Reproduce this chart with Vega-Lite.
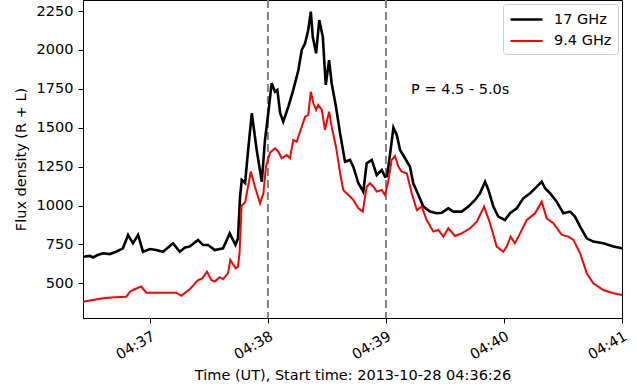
{
  "$schema": "https://vega.github.io/schema/vega-lite/v6.json",
  "width": 539,
  "height": 318,
  "autosize": {"type": "none"},
  "padding": {"left": 83, "top": 0, "right": 15, "bottom": 73},
  "background": "white",
  "config": {
    "font": "DejaVu Sans",
    "view": {"stroke": "black", "strokeWidth": 1},
    "axis": {
      "grid": false,
      "labelColor": "black",
      "titleColor": "black",
      "tickColor": "black",
      "domainColor": "black",
      "labelFontSize": 14.5,
      "titleFontSize": 14.5,
      "titleFontWeight": "normal",
      "tickSize": 5,
      "labelPadding": 4
    },
    "legend": {
      "labelFontSize": 14.5,
      "labelColor": "black"
    }
  },
  "datasets": {
    "flux": [
      {"t": "2013-10-28T04:36:26.0Z", "band": "17 GHz", "flux": 671},
      {"t": "2013-10-28T04:36:29.6Z", "band": "17 GHz", "flux": 676},
      {"t": "2013-10-28T04:36:31.1Z", "band": "17 GHz", "flux": 666},
      {"t": "2013-10-28T04:36:33.1Z", "band": "17 GHz", "flux": 680},
      {"t": "2013-10-28T04:36:36.2Z", "band": "17 GHz", "flux": 693},
      {"t": "2013-10-28T04:36:39.7Z", "band": "17 GHz", "flux": 688},
      {"t": "2013-10-28T04:36:42.8Z", "band": "17 GHz", "flux": 703},
      {"t": "2013-10-28T04:36:46.3Z", "band": "17 GHz", "flux": 725},
      {"t": "2013-10-28T04:36:48.9Z", "band": "17 GHz", "flux": 811},
      {"t": "2013-10-28T04:36:51.4Z", "band": "17 GHz", "flux": 757},
      {"t": "2013-10-28T04:36:54.0Z", "band": "17 GHz", "flux": 811},
      {"t": "2013-10-28T04:36:56.5Z", "band": "17 GHz", "flux": 703},
      {"t": "2013-10-28T04:37:00.1Z", "band": "17 GHz", "flux": 720},
      {"t": "2013-10-28T04:37:03.1Z", "band": "17 GHz", "flux": 714},
      {"t": "2013-10-28T04:37:06.7Z", "band": "17 GHz", "flux": 703},
      {"t": "2013-10-28T04:37:09.2Z", "band": "17 GHz", "flux": 730},
      {"t": "2013-10-28T04:37:11.8Z", "band": "17 GHz", "flux": 757},
      {"t": "2013-10-28T04:37:15.2Z", "band": "17 GHz", "flux": 703},
      {"t": "2013-10-28T04:37:17.9Z", "band": "17 GHz", "flux": 730},
      {"t": "2013-10-28T04:37:20.2Z", "band": "17 GHz", "flux": 736},
      {"t": "2013-10-28T04:37:24.5Z", "band": "17 GHz", "flux": 779},
      {"t": "2013-10-28T04:37:27.0Z", "band": "17 GHz", "flux": 746},
      {"t": "2013-10-28T04:37:29.6Z", "band": "17 GHz", "flux": 746},
      {"t": "2013-10-28T04:37:33.0Z", "band": "17 GHz", "flux": 714},
      {"t": "2013-10-28T04:37:37.2Z", "band": "17 GHz", "flux": 725},
      {"t": "2013-10-28T04:37:40.6Z", "band": "17 GHz", "flux": 821},
      {"t": "2013-10-28T04:37:43.5Z", "band": "17 GHz", "flux": 748},
      {"t": "2013-10-28T04:37:44.8Z", "band": "17 GHz", "flux": 790},
      {"t": "2013-10-28T04:37:45.8Z", "band": "17 GHz", "flux": 1050},
      {"t": "2013-10-28T04:37:46.7Z", "band": "17 GHz", "flux": 1164},
      {"t": "2013-10-28T04:37:48.4Z", "band": "17 GHz", "flux": 1145},
      {"t": "2013-10-28T04:37:49.9Z", "band": "17 GHz", "flux": 1350},
      {"t": "2013-10-28T04:37:51.8Z", "band": "17 GHz", "flux": 1593},
      {"t": "2013-10-28T04:37:54.3Z", "band": "17 GHz", "flux": 1357},
      {"t": "2013-10-28T04:37:56.9Z", "band": "17 GHz", "flux": 1153},
      {"t": "2013-10-28T04:37:58.5Z", "band": "17 GHz", "flux": 1421},
      {"t": "2013-10-28T04:38:00.2Z", "band": "17 GHz", "flux": 1595},
      {"t": "2013-10-28T04:38:01.9Z", "band": "17 GHz", "flux": 1786},
      {"t": "2013-10-28T04:38:03.6Z", "band": "17 GHz", "flux": 1732},
      {"t": "2013-10-28T04:38:04.8Z", "band": "17 GHz", "flux": 1743},
      {"t": "2013-10-28T04:38:06.2Z", "band": "17 GHz", "flux": 1595},
      {"t": "2013-10-28T04:38:07.8Z", "band": "17 GHz", "flux": 1539},
      {"t": "2013-10-28T04:38:10.4Z", "band": "17 GHz", "flux": 1635},
      {"t": "2013-10-28T04:38:12.9Z", "band": "17 GHz", "flux": 1743},
      {"t": "2013-10-28T04:38:15.5Z", "band": "17 GHz", "flux": 1871},
      {"t": "2013-10-28T04:38:17.2Z", "band": "17 GHz", "flux": 2000},
      {"t": "2013-10-28T04:38:18.9Z", "band": "17 GHz", "flux": 2043},
      {"t": "2013-10-28T04:38:20.5Z", "band": "17 GHz", "flux": 2128},
      {"t": "2013-10-28T04:38:21.8Z", "band": "17 GHz", "flux": 2246},
      {"t": "2013-10-28T04:38:22.8Z", "band": "17 GHz", "flux": 2085},
      {"t": "2013-10-28T04:38:24.5Z", "band": "17 GHz", "flux": 1978},
      {"t": "2013-10-28T04:38:26.1Z", "band": "17 GHz", "flux": 2192},
      {"t": "2013-10-28T04:38:27.9Z", "band": "17 GHz", "flux": 2085},
      {"t": "2013-10-28T04:38:29.4Z", "band": "17 GHz", "flux": 1775},
      {"t": "2013-10-28T04:38:31.1Z", "band": "17 GHz", "flux": 1935},
      {"t": "2013-10-28T04:38:32.4Z", "band": "17 GHz", "flux": 1786},
      {"t": "2013-10-28T04:38:34.6Z", "band": "17 GHz", "flux": 1635},
      {"t": "2013-10-28T04:38:36.7Z", "band": "17 GHz", "flux": 1464},
      {"t": "2013-10-28T04:38:39.2Z", "band": "17 GHz", "flux": 1282},
      {"t": "2013-10-28T04:38:41.7Z", "band": "17 GHz", "flux": 1293},
      {"t": "2013-10-28T04:38:43.4Z", "band": "17 GHz", "flux": 1250},
      {"t": "2013-10-28T04:38:46.0Z", "band": "17 GHz", "flux": 1143},
      {"t": "2013-10-28T04:38:48.5Z", "band": "17 GHz", "flux": 1089},
      {"t": "2013-10-28T04:38:50.2Z", "band": "17 GHz", "flux": 1271},
      {"t": "2013-10-28T04:38:52.8Z", "band": "17 GHz", "flux": 1293},
      {"t": "2013-10-28T04:38:55.3Z", "band": "17 GHz", "flux": 1196},
      {"t": "2013-10-28T04:38:57.9Z", "band": "17 GHz", "flux": 1228},
      {"t": "2013-10-28T04:38:59.5Z", "band": "17 GHz", "flux": 1185},
      {"t": "2013-10-28T04:39:00.6Z", "band": "17 GHz", "flux": 1190},
      {"t": "2013-10-28T04:39:02.1Z", "band": "17 GHz", "flux": 1330},
      {"t": "2013-10-28T04:39:03.8Z", "band": "17 GHz", "flux": 1500},
      {"t": "2013-10-28T04:39:05.5Z", "band": "17 GHz", "flux": 1453},
      {"t": "2013-10-28T04:39:07.2Z", "band": "17 GHz", "flux": 1357},
      {"t": "2013-10-28T04:39:09.7Z", "band": "17 GHz", "flux": 1304},
      {"t": "2013-10-28T04:39:12.2Z", "band": "17 GHz", "flux": 1250},
      {"t": "2013-10-28T04:39:13.9Z", "band": "17 GHz", "flux": 1143},
      {"t": "2013-10-28T04:39:16.5Z", "band": "17 GHz", "flux": 1068},
      {"t": "2013-10-28T04:39:19.0Z", "band": "17 GHz", "flux": 993},
      {"t": "2013-10-28T04:39:22.4Z", "band": "17 GHz", "flux": 961},
      {"t": "2013-10-28T04:39:25.8Z", "band": "17 GHz", "flux": 950},
      {"t": "2013-10-28T04:39:28.4Z", "band": "17 GHz", "flux": 954},
      {"t": "2013-10-28T04:39:31.7Z", "band": "17 GHz", "flux": 982},
      {"t": "2013-10-28T04:39:34.3Z", "band": "17 GHz", "flux": 961},
      {"t": "2013-10-28T04:39:38.5Z", "band": "17 GHz", "flux": 961},
      {"t": "2013-10-28T04:39:41.9Z", "band": "17 GHz", "flux": 993},
      {"t": "2013-10-28T04:39:45.3Z", "band": "17 GHz", "flux": 1036},
      {"t": "2013-10-28T04:39:47.8Z", "band": "17 GHz", "flux": 1079},
      {"t": "2013-10-28T04:39:50.4Z", "band": "17 GHz", "flux": 1153},
      {"t": "2013-10-28T04:39:52.1Z", "band": "17 GHz", "flux": 1100},
      {"t": "2013-10-28T04:39:54.6Z", "band": "17 GHz", "flux": 993},
      {"t": "2013-10-28T04:39:57.1Z", "band": "17 GHz", "flux": 929},
      {"t": "2013-10-28T04:40:00.5Z", "band": "17 GHz", "flux": 907},
      {"t": "2013-10-28T04:40:03.1Z", "band": "17 GHz", "flux": 950},
      {"t": "2013-10-28T04:40:06.5Z", "band": "17 GHz", "flux": 982},
      {"t": "2013-10-28T04:40:09.8Z", "band": "17 GHz", "flux": 1046},
      {"t": "2013-10-28T04:40:13.3Z", "band": "17 GHz", "flux": 1079},
      {"t": "2013-10-28T04:40:16.7Z", "band": "17 GHz", "flux": 1121},
      {"t": "2013-10-28T04:40:19.2Z", "band": "17 GHz", "flux": 1153},
      {"t": "2013-10-28T04:40:20.9Z", "band": "17 GHz", "flux": 1111},
      {"t": "2013-10-28T04:40:23.4Z", "band": "17 GHz", "flux": 1079},
      {"t": "2013-10-28T04:40:26.8Z", "band": "17 GHz", "flux": 1025},
      {"t": "2013-10-28T04:40:30.2Z", "band": "17 GHz", "flux": 950},
      {"t": "2013-10-28T04:40:33.6Z", "band": "17 GHz", "flux": 961},
      {"t": "2013-10-28T04:40:36.1Z", "band": "17 GHz", "flux": 929},
      {"t": "2013-10-28T04:40:38.7Z", "band": "17 GHz", "flux": 864},
      {"t": "2013-10-28T04:40:42.1Z", "band": "17 GHz", "flux": 789},
      {"t": "2013-10-28T04:40:45.4Z", "band": "17 GHz", "flux": 768},
      {"t": "2013-10-28T04:40:50.5Z", "band": "17 GHz", "flux": 757},
      {"t": "2013-10-28T04:40:55.6Z", "band": "17 GHz", "flux": 736},
      {"t": "2013-10-28T04:41:00.0Z", "band": "17 GHz", "flux": 725},
      {"t": "2013-10-28T04:36:26.0Z", "band": "9.4 GHz", "flux": 382},
      {"t": "2013-10-28T04:36:29.6Z", "band": "9.4 GHz", "flux": 390},
      {"t": "2013-10-28T04:36:36.2Z", "band": "9.4 GHz", "flux": 404},
      {"t": "2013-10-28T04:36:42.3Z", "band": "9.4 GHz", "flux": 410},
      {"t": "2013-10-28T04:36:48.0Z", "band": "9.4 GHz", "flux": 414},
      {"t": "2013-10-28T04:36:49.9Z", "band": "9.4 GHz", "flux": 446},
      {"t": "2013-10-28T04:36:51.4Z", "band": "9.4 GHz", "flux": 457},
      {"t": "2013-10-28T04:36:55.6Z", "band": "9.4 GHz", "flux": 479},
      {"t": "2013-10-28T04:36:58.2Z", "band": "9.4 GHz", "flux": 440},
      {"t": "2013-10-28T04:37:05.1Z", "band": "9.4 GHz", "flux": 440},
      {"t": "2013-10-28T04:37:13.4Z", "band": "9.4 GHz", "flux": 440},
      {"t": "2013-10-28T04:37:16.0Z", "band": "9.4 GHz", "flux": 420},
      {"t": "2013-10-28T04:37:20.2Z", "band": "9.4 GHz", "flux": 461},
      {"t": "2013-10-28T04:37:24.5Z", "band": "9.4 GHz", "flux": 521},
      {"t": "2013-10-28T04:37:26.7Z", "band": "9.4 GHz", "flux": 532},
      {"t": "2013-10-28T04:37:29.0Z", "band": "9.4 GHz", "flux": 575},
      {"t": "2013-10-28T04:37:31.2Z", "band": "9.4 GHz", "flux": 521},
      {"t": "2013-10-28T04:37:33.0Z", "band": "9.4 GHz", "flux": 511},
      {"t": "2013-10-28T04:37:35.5Z", "band": "9.4 GHz", "flux": 539},
      {"t": "2013-10-28T04:37:37.2Z", "band": "9.4 GHz", "flux": 526},
      {"t": "2013-10-28T04:37:39.7Z", "band": "9.4 GHz", "flux": 564},
      {"t": "2013-10-28T04:37:40.9Z", "band": "9.4 GHz", "flux": 650},
      {"t": "2013-10-28T04:37:43.6Z", "band": "9.4 GHz", "flux": 596},
      {"t": "2013-10-28T04:37:44.8Z", "band": "9.4 GHz", "flux": 607},
      {"t": "2013-10-28T04:37:45.6Z", "band": "9.4 GHz", "flux": 700},
      {"t": "2013-10-28T04:37:46.6Z", "band": "9.4 GHz", "flux": 1000},
      {"t": "2013-10-28T04:37:48.4Z", "band": "9.4 GHz", "flux": 1020},
      {"t": "2013-10-28T04:37:51.3Z", "band": "9.4 GHz", "flux": 1218},
      {"t": "2013-10-28T04:37:53.4Z", "band": "9.4 GHz", "flux": 1121},
      {"t": "2013-10-28T04:37:56.0Z", "band": "9.4 GHz", "flux": 1014},
      {"t": "2013-10-28T04:37:57.7Z", "band": "9.4 GHz", "flux": 1079},
      {"t": "2013-10-28T04:37:59.0Z", "band": "9.4 GHz", "flux": 1250},
      {"t": "2013-10-28T04:38:01.1Z", "band": "9.4 GHz", "flux": 1340},
      {"t": "2013-10-28T04:38:03.6Z", "band": "9.4 GHz", "flux": 1368},
      {"t": "2013-10-28T04:38:05.3Z", "band": "9.4 GHz", "flux": 1346},
      {"t": "2013-10-28T04:38:07.0Z", "band": "9.4 GHz", "flux": 1304},
      {"t": "2013-10-28T04:38:09.6Z", "band": "9.4 GHz", "flux": 1325},
      {"t": "2013-10-28T04:38:11.2Z", "band": "9.4 GHz", "flux": 1304},
      {"t": "2013-10-28T04:38:12.9Z", "band": "9.4 GHz", "flux": 1421},
      {"t": "2013-10-28T04:38:14.6Z", "band": "9.4 GHz", "flux": 1410},
      {"t": "2013-10-28T04:38:17.2Z", "band": "9.4 GHz", "flux": 1507},
      {"t": "2013-10-28T04:38:18.9Z", "band": "9.4 GHz", "flux": 1571},
      {"t": "2013-10-28T04:38:20.5Z", "band": "9.4 GHz", "flux": 1582},
      {"t": "2013-10-28T04:38:21.8Z", "band": "9.4 GHz", "flux": 1732},
      {"t": "2013-10-28T04:38:23.1Z", "band": "9.4 GHz", "flux": 1657},
      {"t": "2013-10-28T04:38:24.5Z", "band": "9.4 GHz", "flux": 1614},
      {"t": "2013-10-28T04:38:25.6Z", "band": "9.4 GHz", "flux": 1646},
      {"t": "2013-10-28T04:38:27.4Z", "band": "9.4 GHz", "flux": 1614},
      {"t": "2013-10-28T04:38:29.0Z", "band": "9.4 GHz", "flux": 1486},
      {"t": "2013-10-28T04:38:31.1Z", "band": "9.4 GHz", "flux": 1603},
      {"t": "2013-10-28T04:38:32.4Z", "band": "9.4 GHz", "flux": 1507},
      {"t": "2013-10-28T04:38:34.6Z", "band": "9.4 GHz", "flux": 1378},
      {"t": "2013-10-28T04:38:36.7Z", "band": "9.4 GHz", "flux": 1207},
      {"t": "2013-10-28T04:38:38.3Z", "band": "9.4 GHz", "flux": 1100},
      {"t": "2013-10-28T04:38:40.9Z", "band": "9.4 GHz", "flux": 1068},
      {"t": "2013-10-28T04:38:43.4Z", "band": "9.4 GHz", "flux": 1036},
      {"t": "2013-10-28T04:38:46.0Z", "band": "9.4 GHz", "flux": 982},
      {"t": "2013-10-28T04:38:48.2Z", "band": "9.4 GHz", "flux": 961},
      {"t": "2013-10-28T04:38:50.2Z", "band": "9.4 GHz", "flux": 1121},
      {"t": "2013-10-28T04:38:51.9Z", "band": "9.4 GHz", "flux": 1143},
      {"t": "2013-10-28T04:38:53.6Z", "band": "9.4 GHz", "flux": 1121},
      {"t": "2013-10-28T04:38:55.3Z", "band": "9.4 GHz", "flux": 1089},
      {"t": "2013-10-28T04:38:57.9Z", "band": "9.4 GHz", "flux": 1100},
      {"t": "2013-10-28T04:38:59.5Z", "band": "9.4 GHz", "flux": 1068},
      {"t": "2013-10-28T04:39:01.1Z", "band": "9.4 GHz", "flux": 1150},
      {"t": "2013-10-28T04:39:02.9Z", "band": "9.4 GHz", "flux": 1293},
      {"t": "2013-10-28T04:39:04.6Z", "band": "9.4 GHz", "flux": 1318},
      {"t": "2013-10-28T04:39:06.3Z", "band": "9.4 GHz", "flux": 1250},
      {"t": "2013-10-28T04:39:08.0Z", "band": "9.4 GHz", "flux": 1218},
      {"t": "2013-10-28T04:39:10.6Z", "band": "9.4 GHz", "flux": 1207},
      {"t": "2013-10-28T04:39:13.1Z", "band": "9.4 GHz", "flux": 1079},
      {"t": "2013-10-28T04:39:15.7Z", "band": "9.4 GHz", "flux": 971},
      {"t": "2013-10-28T04:39:18.2Z", "band": "9.4 GHz", "flux": 993},
      {"t": "2013-10-28T04:39:20.7Z", "band": "9.4 GHz", "flux": 907},
      {"t": "2013-10-28T04:39:24.1Z", "band": "9.4 GHz", "flux": 832},
      {"t": "2013-10-28T04:39:26.6Z", "band": "9.4 GHz", "flux": 843},
      {"t": "2013-10-28T04:39:29.2Z", "band": "9.4 GHz", "flux": 800},
      {"t": "2013-10-28T04:39:31.7Z", "band": "9.4 GHz", "flux": 854},
      {"t": "2013-10-28T04:39:35.1Z", "band": "9.4 GHz", "flux": 804},
      {"t": "2013-10-28T04:39:38.5Z", "band": "9.4 GHz", "flux": 821},
      {"t": "2013-10-28T04:39:42.8Z", "band": "9.4 GHz", "flux": 854},
      {"t": "2013-10-28T04:39:46.2Z", "band": "9.4 GHz", "flux": 896},
      {"t": "2013-10-28T04:39:49.9Z", "band": "9.4 GHz", "flux": 993},
      {"t": "2013-10-28T04:39:52.9Z", "band": "9.4 GHz", "flux": 886},
      {"t": "2013-10-28T04:39:56.3Z", "band": "9.4 GHz", "flux": 736},
      {"t": "2013-10-28T04:39:59.7Z", "band": "9.4 GHz", "flux": 703},
      {"t": "2013-10-28T04:40:01.4Z", "band": "9.4 GHz", "flux": 736},
      {"t": "2013-10-28T04:40:03.4Z", "band": "9.4 GHz", "flux": 800},
      {"t": "2013-10-28T04:40:05.6Z", "band": "9.4 GHz", "flux": 757},
      {"t": "2013-10-28T04:40:08.2Z", "band": "9.4 GHz", "flux": 821},
      {"t": "2013-10-28T04:40:11.6Z", "band": "9.4 GHz", "flux": 907},
      {"t": "2013-10-28T04:40:15.8Z", "band": "9.4 GHz", "flux": 950},
      {"t": "2013-10-28T04:40:19.2Z", "band": "9.4 GHz", "flux": 1025},
      {"t": "2013-10-28T04:40:21.7Z", "band": "9.4 GHz", "flux": 918},
      {"t": "2013-10-28T04:40:25.1Z", "band": "9.4 GHz", "flux": 886},
      {"t": "2013-10-28T04:40:29.4Z", "band": "9.4 GHz", "flux": 811},
      {"t": "2013-10-28T04:40:32.7Z", "band": "9.4 GHz", "flux": 800},
      {"t": "2013-10-28T04:40:35.3Z", "band": "9.4 GHz", "flux": 779},
      {"t": "2013-10-28T04:40:38.7Z", "band": "9.4 GHz", "flux": 693},
      {"t": "2013-10-28T04:40:42.1Z", "band": "9.4 GHz", "flux": 564},
      {"t": "2013-10-28T04:40:45.4Z", "band": "9.4 GHz", "flux": 500},
      {"t": "2013-10-28T04:40:50.5Z", "band": "9.4 GHz", "flux": 457},
      {"t": "2013-10-28T04:40:55.6Z", "band": "9.4 GHz", "flux": 436},
      {"t": "2013-10-28T04:41:00.0Z", "band": "9.4 GHz", "flux": 425}
    ],
    "marks": [
      {"t": "2013-10-28T04:38:00.0Z"},
      {"t": "2013-10-28T04:39:00.0Z"}
    ],
    "note": [
      {"t": "2013-10-28T04:39:12.8Z", "flux": 1743, "label": "P = 4.5 - 5.0s"}
    ]
  },
  "layer": [
    {
      "data": {"name": "marks"},
      "mark": {"type": "rule", "color": "#808080", "strokeWidth": 2, "strokeDash": [8, 4]},
      "encoding": {
        "x": {"field": "t", "type": "temporal"}
      }
    },
    {
      "data": {"name": "flux"},
      "mark": {"type": "line", "interpolate": "linear"},
      "encoding": {
        "x": {
          "field": "t",
          "type": "temporal",
          "scale": {
            "type": "utc",
            "domain": [
              {"year": 2013, "month": 10, "date": 28, "hours": 4, "minutes": 36, "seconds": 26, "utc": true},
              {"year": 2013, "month": 10, "date": 28, "hours": 4, "minutes": 41, "seconds": 0, "utc": true}
            ]
          },
          "axis": {
            "title": "Time (UT), Start time: 2013-10-28 04:36:26",
            "format": "%H:%M",
            "formatType": "utc",
            "values": [
              {"year": 2013, "month": 10, "date": 28, "hours": 4, "minutes": 37, "utc": true},
              {"year": 2013, "month": 10, "date": 28, "hours": 4, "minutes": 38, "utc": true},
              {"year": 2013, "month": 10, "date": 28, "hours": 4, "minutes": 39, "utc": true},
              {"year": 2013, "month": 10, "date": 28, "hours": 4, "minutes": 40, "utc": true},
              {"year": 2013, "month": 10, "date": 28, "hours": 4, "minutes": 41, "utc": true}
            ],
            "labelAngle": -30,
            "labelAlign": "right",
            "labelBaseline": "top",
            "labelPadding": 6,
            "titlePadding": 7
          }
        },
        "y": {
          "field": "flux",
          "type": "quantitative",
          "scale": {"domain": [277, 2321], "nice": false, "zero": false},
          "axis": {
            "title": "Flux density (R + L)",
            "format": "d",
            "values": [500, 750, 1000, 1250, 1500, 1750, 2000, 2250],
            "labelPadding": 5,
            "titlePadding": 8
          }
        },
        "strokeWidth": {
          "field": "band",
          "type": "nominal",
          "scale": {"domain": ["17 GHz", "9.4 GHz"], "range": [2.6, 2]},
          "legend": null
        },
        "color": {
          "field": "band",
          "type": "nominal",
          "scale": {"domain": ["17 GHz", "9.4 GHz"], "range": ["black", "red"]},
          "legend": {
            "title": null,
            "orient": "none",
            "legendX": 420,
            "legendY": 4,
            "symbolType": "M-2,0L2,0",
            "symbolSize": 256,
            "symbolOffset": 8,
            "symbolStrokeWidth": 2,
            "strokeColor": "#cccccc",
            "fillColor": "white",
            "cornerRadius": 3,
            "padding": 6,
            "rowPadding": 6,
            "labelOffset": 18
          }
        }
      }
    },
    {
      "data": {"name": "note"},
      "mark": {"type": "text", "align": "left", "baseline": "middle", "fontSize": 14.5, "color": "black"},
      "encoding": {
        "x": {"field": "t", "type": "temporal"},
        "y": {"field": "flux", "type": "quantitative"},
        "text": {"field": "label"}
      }
    }
  ]
}
